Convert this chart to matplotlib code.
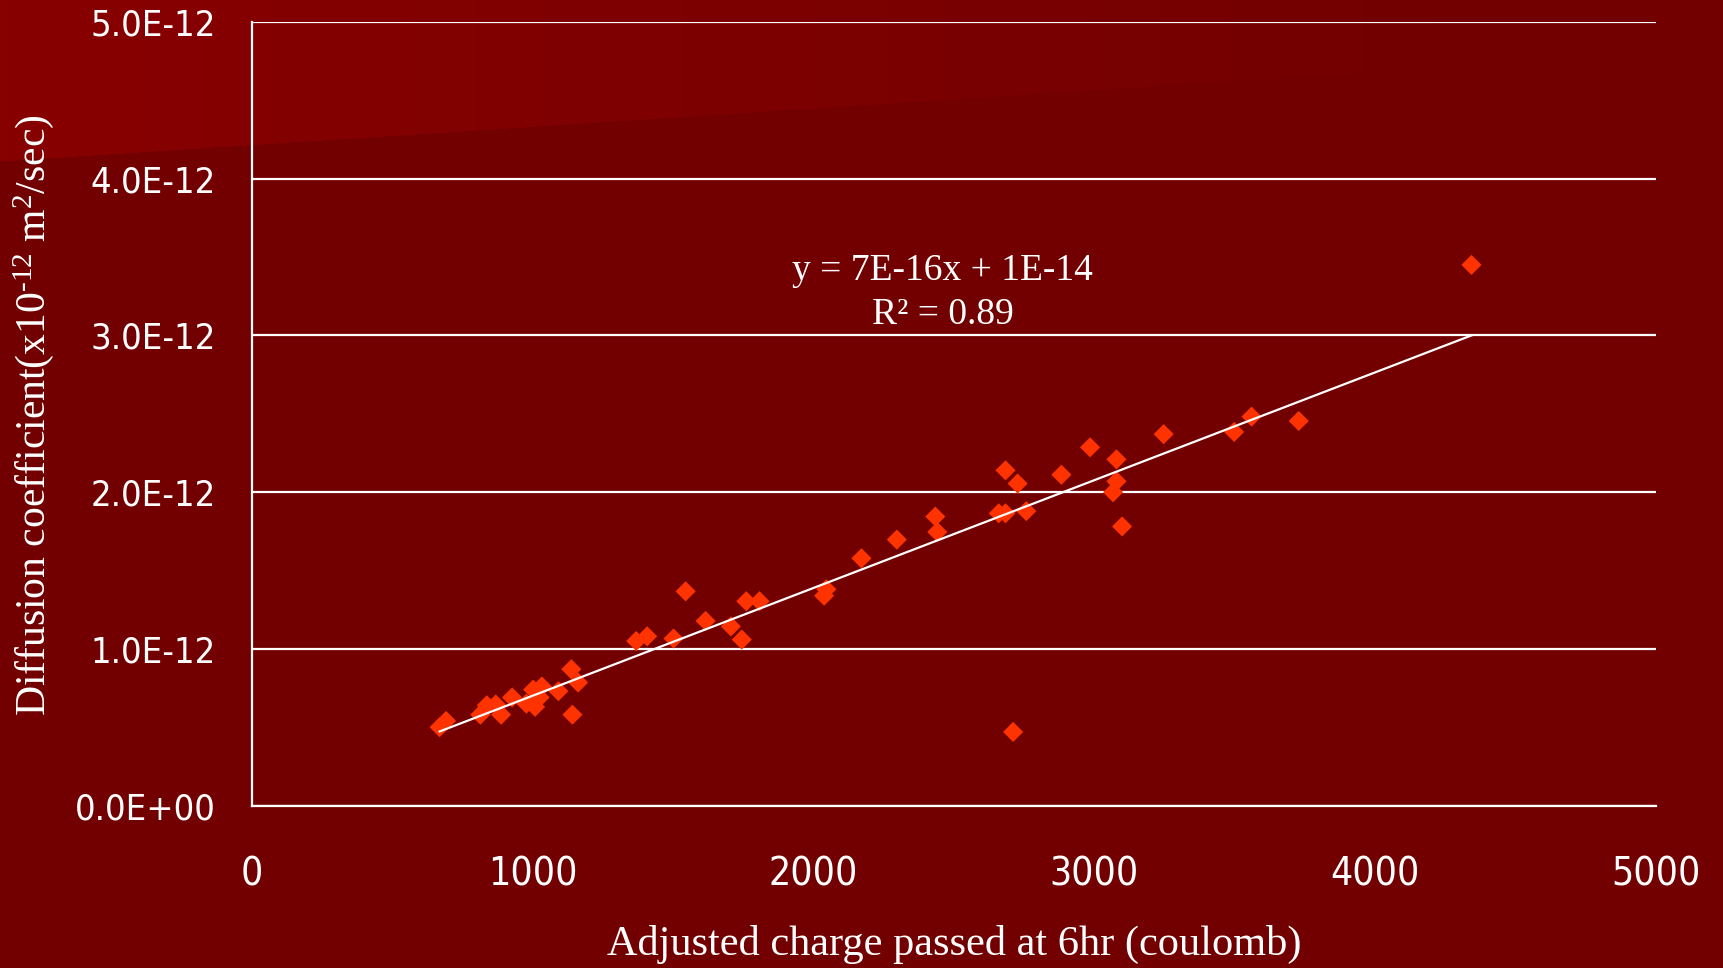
import numpy as np
import matplotlib
matplotlib.use("Agg")
import matplotlib.pyplot as plt
from matplotlib.ticker import FixedLocator, FuncFormatter
from matplotlib import font_manager

# Rapid chloride test: charge passed vs. diffusion coefficient
charge_c = [669, 692, 814, 837, 869, 888, 927, 978, 1009, 1002, 1033, 1025,
            1092, 1138, 1162, 1142, 1369, 1408, 1502, 1545, 1616, 1706, 1745,
            1761, 1808, 2038, 2046, 2171, 2297, 2434, 2441, 2660, 2684, 2684,
            2727, 2758, 2711, 2883, 2985, 3067, 3079, 3079, 3099, 3247, 3498,
            3560, 3728, 4343]
diff_e12 = [0.50, 0.54, 0.58, 0.64, 0.645, 0.58, 0.69, 0.65, 0.63, 0.74,
            0.76, 0.69, 0.73, 0.87, 0.785, 0.58, 1.05, 1.08, 1.066, 1.367,
            1.178, 1.143, 1.059, 1.304, 1.304, 1.339, 1.38, 1.578, 1.697,
            1.844, 1.746, 1.865, 1.865, 2.139, 2.055, 1.879, 0.47, 2.111,
            2.286, 1.999, 2.069, 2.209, 1.781, 2.37, 2.384, 2.482, 2.454, 3.45]

x_ticks = [0, 1000, 2000, 3000, 4000, 5000]
y_ticks = [0.0, 1e-12, 2e-12, 3e-12, 4e-12, 5e-12]

x = np.array(charge_c, dtype=float)
y = np.array(diff_e12) * 1e-12

W, H = 1723, 968
fig = plt.figure(figsize=(W / 100, H / 100), dpi=100)

# Slide-style background: dark red with a lighter fading wedge at top-left
base = np.array([114, 0, 0]) / 255.0
light = np.array([136, 0, 0]) / 255.0
yy, xx = np.mgrid[0:H, 0:W]
wedge = yy < (161 - 0.065 * xx)
fade = np.clip(1 - xx / 1500.0, 0, 1)
bg = np.empty((H, W, 3))
bg[:] = base
mix = (fade[..., None] * light + (1 - fade[..., None]) * base)
bg[wedge] = mix[wedge]
bg_ax = fig.add_axes([0, 0, 1, 1], zorder=-10)
bg_ax.imshow(bg, aspect="auto", interpolation="bilinear")
bg_ax.set_axis_off()

ax = fig.add_axes([0.1461, 0.1678, 0.8150, 0.8095])
ax.set_facecolor("none")

ax.scatter(x, y, marker="D", s=105, color="#FF3300", edgecolors="none", zorder=3)

# Linear trendline through the data
slope, intercept = np.polyfit(x, y, 1)
xl = np.array([x.min(), x.max()])
ax.plot(xl, slope * xl + intercept, color="white", lw=1.6, zorder=4)

ax.set_xlim(0, 5000)
ax.set_ylim(0, 5e-12)
ax.xaxis.set_major_locator(FixedLocator(x_ticks))
ax.yaxis.set_major_locator(FixedLocator(y_ticks))


def sci_fmt(v, pos):
    if v == 0:
        return "0.0E+00"
    m, e = f"{v:.1E}".split("E")
    return f"{m}E{int(e)}"


ax.yaxis.set_major_formatter(FuncFormatter(sci_fmt))
ax.yaxis.grid(True, color="white", lw=1.6)
ax.xaxis.grid(False)
ax.set_axisbelow(True)

for side in ("top", "right"):
    ax.spines[side].set_visible(False)
for side in ("left", "bottom"):
    ax.spines[side].set_color("white")
    ax.spines[side].set_linewidth(1.6)

# Narrow sans for the tick labels
tick_fp_y = font_manager.FontProperties(family="DejaVu Sans", stretch="condensed", size=26)
tick_fp_x = font_manager.FontProperties(family="DejaVu Sans", stretch="condensed", size=28)
ax.tick_params(axis="both", length=0, colors="white")
ax.tick_params(axis="y", pad=26)
ax.tick_params(axis="x", pad=36)
for lab in ax.get_yticklabels():
    lab.set_fontproperties(tick_fp_y)
for lab in ax.get_xticklabels():
    lab.set_fontproperties(tick_fp_x)

plt.rcParams["mathtext.default"] = "regular"
serif = ["Liberation Serif", "DejaVu Serif"]

ax.text(2461, 3.27e-12, "y = 7E-16x + 1E-14\nR² = 0.89", ha="center", va="center",
        color="white", fontsize=27, family=serif, linespacing=1.35, zorder=5)

fig.text(0.5537, 0.0238, "Adjusted charge passed at 6hr (coulomb)", ha="center",
         va="center", color="white", fontsize=30.5, family=serif)
fig.text(0.0192, 0.571, "Diffusion coefficient(x10$^{\u201012}$ m$^{2}$/sec)", ha="center",
         va="center", rotation=90, color="white", fontsize=30, family=serif)

fig.savefig("out.png", dpi=100)
